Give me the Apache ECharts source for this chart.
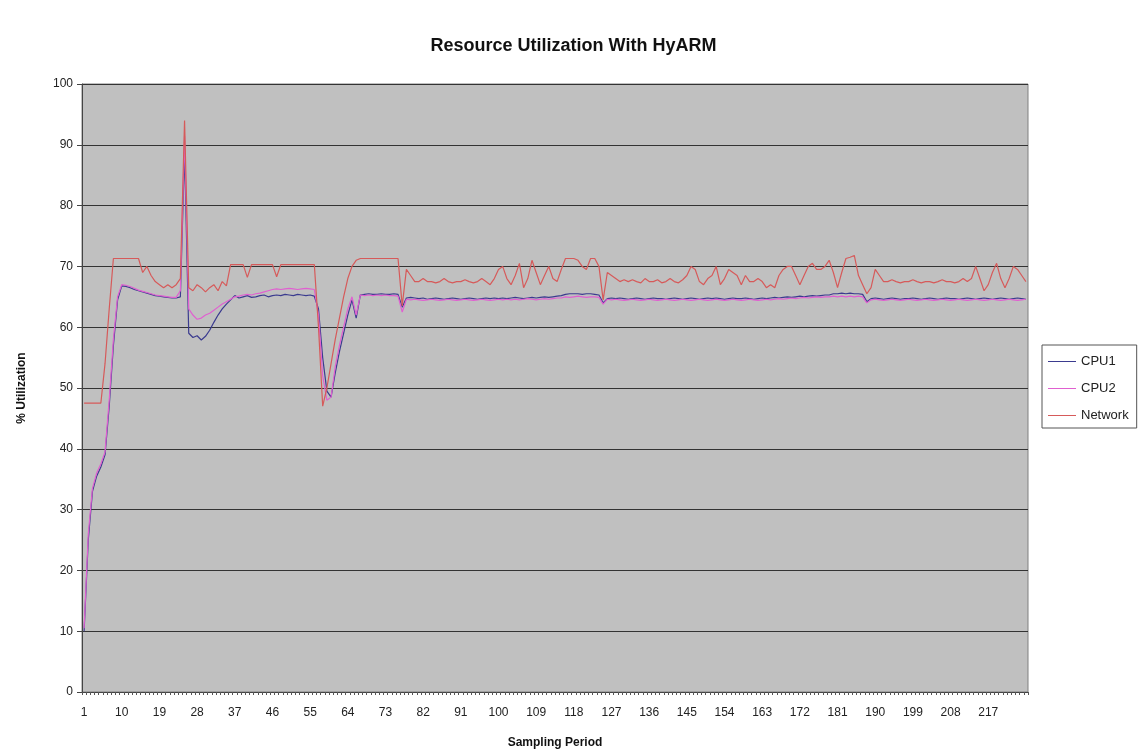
<!DOCTYPE html>
<html>
<head>
<meta charset="utf-8">
<script src="https://cdn.jsdelivr.net/npm/echarts@6/dist/echarts.min.js"></script>
<style>
  html, body { margin: 0; padding: 0; background: #ffffff; }
  #chart { width: 1147px; height: 753px; }
</style>
</head>
<body>
<div id="chart"></div>
<script>
// sampling periods 1..226
var periods = [];
for (var p = 1; p <= 226; p++) periods.push(String(p));

var seriesNames = ['CPU1', 'CPU2', 'Network'];

// values, rows of 10 periods
var cpu1 = [
  10, 25, 33, 35.5, 37, 39, 47, 57, 64.5, 66.8,
  66.7, 66.5, 66.2, 66, 65.8, 65.6, 65.4, 65.2, 65.1, 65,
  64.9, 64.8, 64.8, 65, 89, 59, 58.3, 58.6, 57.9, 58.5,
  59.5, 60.8, 62, 63, 63.8, 64.5, 65.2, 64.8, 65, 65.2,
  64.9, 65, 65.2, 65.3, 65, 65.2, 65.3, 65.2, 65.4, 65.3,
  65.2, 65.4, 65.3, 65.2, 65.3, 65.1, 63, 55, 49.5, 48.5,
  52.5, 56, 59, 62, 64.5, 61.5, 65.3, 65.4, 65.5, 65.4,
  65.4, 65.5, 65.4, 65.4, 65.5, 65.4, 63.3, 64.8, 64.9, 64.8,
  64.7, 64.8, 64.6, 64.7, 64.8, 64.7, 64.6, 64.7, 64.8, 64.7,
  64.6, 64.7, 64.8, 64.7, 64.6, 64.7, 64.8, 64.7, 64.8, 64.7,
  64.8, 64.7, 64.8, 64.9, 64.8, 64.7, 64.8, 64.9, 64.8, 64.9,
  65, 64.9, 65, 65.1, 65.2, 65.4, 65.5, 65.5, 65.5, 65.4,
  65.5, 65.5, 65.4, 65.3, 64, 64.7, 64.8, 64.7, 64.8, 64.7,
  64.6, 64.7, 64.8, 64.7, 64.6, 64.7, 64.8, 64.7, 64.7, 64.6,
  64.7, 64.8, 64.7, 64.6, 64.7, 64.8, 64.7, 64.6, 64.7, 64.8,
  64.7, 64.8, 64.7, 64.6, 64.7, 64.8, 64.7, 64.7, 64.8, 64.7,
  64.6, 64.7, 64.8, 64.7, 64.8, 64.9, 64.8, 64.9, 65, 64.9,
  65, 65.1, 65, 65.1, 65.2, 65.1, 65.2, 65.3, 65.3, 65.5,
  65.5, 65.6, 65.5, 65.6, 65.5, 65.5, 65.4, 64.2, 64.7, 64.8,
  64.7, 64.6, 64.7, 64.8, 64.7, 64.6, 64.7, 64.7, 64.8, 64.7,
  64.6, 64.7, 64.8, 64.7, 64.6, 64.7, 64.8, 64.7, 64.7, 64.6,
  64.7, 64.8, 64.7, 64.6, 64.7, 64.8, 64.7, 64.6, 64.7, 64.8,
  64.7, 64.6, 64.7, 64.8, 64.7, 64.6
];

var cpu2 = [
  10.5, 26, 33.5, 36, 37.5, 39.5, 48, 58, 65, 67,
  66.9, 66.7, 66.4, 66.1, 65.9, 65.7, 65.5, 65.3, 65.2, 65.1,
  65, 64.9, 64.9, 66, 91.5, 63, 62, 61.3, 61.5, 62,
  62.3, 62.8, 63.3, 63.8, 64.2, 64.6, 65, 65.1, 65.3, 65.4,
  65.3, 65.5, 65.6, 65.8, 66, 66.2, 66.3, 66.2, 66.3, 66.4,
  66.3, 66.2, 66.3, 66.4, 66.3, 66.2, 62, 52, 48, 48.5,
  53.5, 57, 60, 63, 65, 62, 65.3, 65.2, 65.3, 65.2,
  65.3, 65.2, 65.3, 65.2, 65.2, 65.1, 62.5, 64.6, 64.5, 64.6,
  64.5, 64.4, 64.5, 64.6, 64.5, 64.4, 64.5, 64.6, 64.5, 64.4,
  64.5, 64.6, 64.5, 64.4, 64.5, 64.6, 64.5, 64.4, 64.5, 64.6,
  64.5, 64.6, 64.5, 64.6, 64.5, 64.6, 64.7, 64.6, 64.5, 64.6,
  64.7, 64.6, 64.7, 64.8, 64.8, 65, 64.9, 65, 65.1, 65,
  64.9, 65, 65, 64.9, 63.8, 64.6, 64.5, 64.6, 64.5, 64.4,
  64.5, 64.6, 64.5, 64.4, 64.5, 64.6, 64.5, 64.4, 64.5, 64.6,
  64.5, 64.4, 64.5, 64.6, 64.5, 64.4, 64.5, 64.6, 64.5, 64.4,
  64.5, 64.6, 64.5, 64.4, 64.5, 64.6, 64.5, 64.4, 64.5, 64.6,
  64.5, 64.4, 64.5, 64.6, 64.5, 64.6, 64.7, 64.6, 64.7, 64.8,
  64.7, 64.8, 64.9, 64.8, 64.9, 65, 64.9, 65, 65, 65.1,
  65, 65.1, 65, 65.1, 65, 65.1, 65, 64, 64.5, 64.6,
  64.5, 64.4, 64.5, 64.6, 64.5, 64.4, 64.5, 64.6, 64.5, 64.4,
  64.5, 64.6, 64.5, 64.4, 64.5, 64.6, 64.5, 64.4, 64.5, 64.6,
  64.5, 64.4, 64.5, 64.6, 64.5, 64.4, 64.5, 64.6, 64.5, 64.4,
  64.5, 64.6, 64.5, 64.4, 64.5, 64.6
];

var network = [
  47.5, 47.5, 47.5, 47.5, 47.5, 54, 63, 71.3, 71.3, 71.3,
  71.3, 71.3, 71.3, 71.3, 69, 70, 68.5, 67.5, 67, 66.5,
  67, 66.5, 67, 68, 94, 66.5, 66, 67, 66.5, 65.8,
  66.5, 67, 66, 67.5, 66.8, 70.3, 70.3, 70.3, 70.3, 68.2,
  70.3, 70.3, 70.3, 70.3, 70.3, 70.3, 68.3, 70.3, 70.3, 70.3,
  70.3, 70.3, 70.3, 70.3, 70.3, 70.3, 60, 47, 50, 54,
  58, 61.5, 65, 68, 70, 71, 71.3, 71.3, 71.3, 71.3,
  71.3, 71.3, 71.3, 71.3, 71.3, 71.3, 63.5, 69.5, 68.5, 67.5,
  67.5, 68, 67.5, 67.5, 67.3, 67.5, 68, 67.5, 67.3, 67.5,
  67.5, 67.8, 67.5, 67.3, 67.5, 68, 67.5, 67, 68, 69.5,
  70, 68, 67, 68.5, 70.5, 66.5, 68, 71, 69, 67,
  68.5, 70, 68, 67.5, 69.5, 71.3, 71.3, 71.3, 71, 70,
  69.5, 71.3, 71.3, 70, 64.5, 69, 68.5, 68, 67.5, 67.8,
  67.5, 67.8, 67.5, 67.3, 68, 67.5, 67.5, 67.8, 67.3, 67.5,
  68, 67.5, 67.3, 67.8, 68.5, 70, 69.5, 67.5, 67, 68,
  68.5, 70, 67, 68, 69.5, 69, 68.5, 67, 68.5, 67.5,
  67.5, 68, 67.5, 66.5, 67, 66.5, 68.5, 69.5, 70, 70,
  68.5, 67, 68.5, 70, 70.5, 69.5, 69.5, 70, 71, 69,
  66.5, 69, 71.3, 71.5, 71.8, 68.5, 67, 65.5, 66.5, 69.5,
  68.5, 67.5, 67.5, 67.8, 67.5, 67.3, 67.5, 67.5, 67.8, 67.5,
  67.3, 67.5, 67.5, 67.3, 67.5, 67.8, 67.5, 67.5, 67.3, 67.5,
  68, 67.5, 68, 70, 68, 66, 67, 69, 70.5, 68,
  66.5, 68, 70, 69.5, 68.5, 67.5
];

var yTicks = { min: 0, max: 100, interval: 10 };
var labelStep = 9;      // a label every 9th sampling period
var lastLabelled = 217; // the picture stops labelling at 217
var lineColors = ['#3b3b8f', '#e060d0', '#d65a5a'];

var chart = echarts.init(document.getElementById('chart'));

function lineSeries(name, data, color) {
    return {
        name: name,
        type: 'line',
        data: data,
        symbol: 'none',
        smooth: false,
        animation: false,
        lineStyle: { width: 1.2, color: color },
        itemStyle: { color: color }
    };
}

var option = {
    backgroundColor: '#ffffff',
    textStyle: { fontFamily: 'Liberation Sans, Arial, sans-serif' },
    title: {
        text: 'Resource Utilization With HyARM',
        left: 'center',
        top: 32,
        textStyle: { fontSize: 18, fontWeight: 'bold', color: '#111' }
    },
    legend: {
        orient: 'vertical',
        left: 1042,
        top: 345,
        data: seriesNames,
        icon: 'rect',
        itemWidth: 28,
        itemHeight: 1,
        itemGap: 14,
        padding: [10, 8, 6, 6],
        borderColor: '#555',
        borderWidth: 1,
        textStyle: { fontSize: 13, color: '#222' }
    },
    grid: {
        left: 82,
        right: 119,
        top: 84,
        bottom: 61,
        outerBoundsMode: 'none',
        containLabel: false,
        show: true,
        backgroundColor: '#c0c0c0',
        borderColor: '#808080',
        borderWidth: 1
    },
    xAxis: {
        type: 'category',
        data: periods,
        boundaryGap: true,
        name: 'Sampling Period',
        nameLocation: 'middle',
        nameGap: 45,
        nameTextStyle: { fontSize: 12, fontWeight: 'bold', color: '#111' },
        axisLine: { lineStyle: { color: '#444' } },
        axisTick: { show: true, interval: 0, length: 3, lineStyle: { color: '#555' } },
        axisLabel: {
            interval: function (index, value) {
                return index % labelStep === 0 && Number(value) <= lastLabelled;
            },
            fontSize: 12,
            color: '#222',
            margin: 15
        },
        splitLine: { show: false }
    },
    yAxis: {
        type: 'value',
        min: yTicks.min,
        max: yTicks.max,
        interval: yTicks.interval,
        name: '% Utilization',
        nameLocation: 'middle',
        nameGap: 54,
        nameTextStyle: { fontSize: 12, fontWeight: 'bold', color: '#111' },
        axisLine: { show: true, lineStyle: { color: '#444' } },
        axisTick: { show: true, length: 5, lineStyle: { color: '#444' } },
        axisLabel: { fontSize: 12, color: '#222', margin: 9 },
        splitLine: { show: true, lineStyle: { color: '#333', width: 1 } }
    },
    series: [
        lineSeries(seriesNames[0], cpu1, lineColors[0]),
        lineSeries(seriesNames[1], cpu2, lineColors[1]),
        lineSeries(seriesNames[2], network, lineColors[2])
    ]
};

chart.setOption(option);
</script>
</body>
</html>
